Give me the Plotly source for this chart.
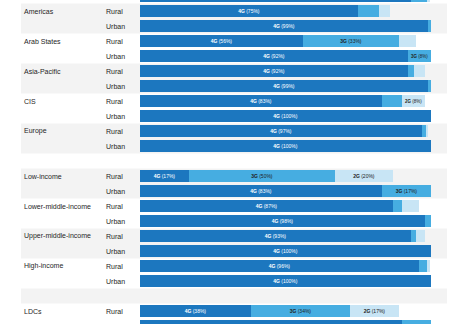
import plotly.graph_objects as go

# Mobile network coverage by technology, rural vs urban (% of population)
groups = ["Africa",
          "Americas", "Americas",
          "Arab States", "Arab States",
          "Asia-Pacific", "Asia-Pacific",
          "CIS", "CIS",
          "Europe", "Europe",
          "",
          "Low-income", "Low-income",
          "Lower-middle-income", "Lower-middle-income",
          "Upper-middle-income", "Upper-middle-income",
          "High-income", "High-income",
          "",
          "LDCs", "LDCs"]
areas = ["Urban",
         "Rural", "Urban",
         "Rural", "Urban",
         "Rural", "Urban",
         "Rural", "Urban",
         "Rural", "Urban",
         "",
         "Rural", "Urban",
         "Rural", "Urban",
         "Rural", "Urban",
         "Rural", "Urban",
         "",
         "Rural", "Urban"]
cov_4g = [93, 75, 99, 56, 92, 92, 99, 83, 100, 97, 100, None,
          17, 83, 87, 98, 93, 100, 96, 100, None, 38, 90]
cov_3g = [5.5, 7, 1, 33, 8, 2, 1, 7, 0, 1.5, 0, None,
          50, 17, 3, 2, 2, 0, 2.5, 0, None, 34, 10]
cov_2g = [1, 4, 0, 6, 0, 4, 0, 8, 0, 0.5, 0, None,
          20, 0, 6, 0, 3, 0, 1, 0, None, 17, 0]
techs = ["4G", "3G", "2G"]

COLORS = {"4G": "#1c77bf", "3G": "#46ade1", "2G": "#c8e5f5"}
TEXT_COLORS = {"4G": "#ffffff", "3G": "#222222", "2G": "#222222"}
BAND = "#f3f3f3"
LABEL_COLOR = "#262626"
FONT = "Liberation Sans, Arial, sans-serif"
LABEL_MIN = 8  # segments narrower than this stay unlabelled

rows = list(range(len(groups)))

fig = go.Figure()
for tech, vals in zip(techs, [cov_4g, cov_3g, cov_2g]):
    texts = []
    for v in vals:
        if v is not None and v >= LABEL_MIN:
            texts.append(f"<b>{tech}</b> ({v:g}%)")
        else:
            texts.append("")
    fig.add_trace(go.Bar(
        orientation="h", y=rows, x=vals, name=tech,
        marker=dict(color=COLORS[tech], line=dict(width=0)),
        width=0.77,
        text=texts, textposition="inside", insidetextanchor="middle",
        textangle=0,
        insidetextfont=dict(family=FONT, size=5, color=TEXT_COLORS[tech]),
        hoverinfo="skip",
    ))

# Alternating background bands: each group (or spacer row) is one block
blocks = []
i = 0
while i < len(groups):
    j = i
    while j + 1 < len(groups) and groups[j + 1] == groups[i] and groups[i] != "":
        j += 1
    blocks.append((i, j))
    i = j + 1

shapes = []
annotations = []
for b, (i0, i1) in enumerate(blocks):
    if b % 2 == 1:
        shapes.append(dict(type="rect", xref="paper", yref="y",
                           x0=-0.409, x1=1.055, y0=i0 - 0.5, y1=i1 + 0.5,
                           fillcolor=BAND, line=dict(width=0), layer="below"))
    if groups[i0]:
        annotations.append(dict(xref="paper", yref="y", x=-0.405, y=i0,
                                text=groups[i0], showarrow=False,
                                xanchor="left", yanchor="middle",
                                font=dict(family=FONT, size=7, color=LABEL_COLOR)))

for k, a in enumerate(areas):
    if a:
        annotations.append(dict(xref="paper", yref="y", x=-0.123, y=k,
                                text=a, showarrow=False,
                                xanchor="left", yanchor="middle",
                                font=dict(family=FONT, size=7, color=LABEL_COLOR)))

fig.update_layout(
    width=474, height=324,
    margin=dict(l=140, r=43, t=0, b=0, pad=0),
    barmode="stack", bargap=0,
    showlegend=False,
    paper_bgcolor="#ffffff", plot_bgcolor="rgba(0,0,0,0)",
    xaxis=dict(range=[0, 100], visible=False, fixedrange=True),
    yaxis=dict(range=[21.8667, 0.2667], visible=False, fixedrange=True),
    shapes=shapes, annotations=annotations,
)

fig.write_html("out.html")
